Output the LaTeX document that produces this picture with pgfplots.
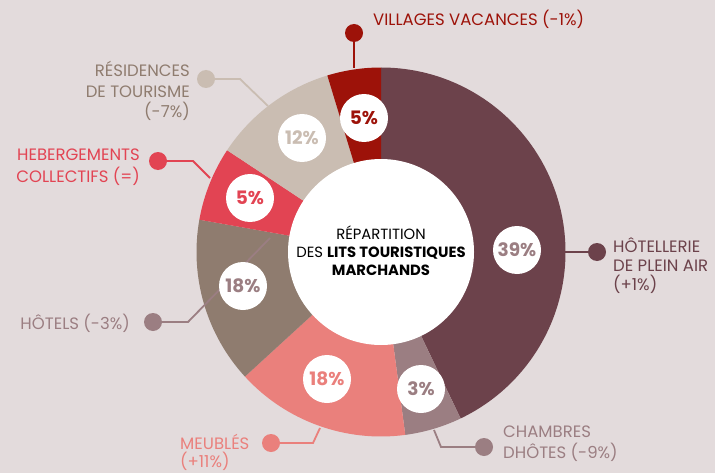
\documentclass[border=0pt]{standalone}
\usepackage{fontspec}
\setmainfont{Poppins}
\usepackage{pgfplots}
\usepackage{pgfplotstable}
\pgfplotsset{compat=1.18}

\definecolor{bg}{HTML}{E3DBDC}
\definecolor{cHot}{HTML}{6C424B}
\definecolor{cCha}{HTML}{9B7E82}
\definecolor{cMeu}{HTML}{EA807C}
\definecolor{cHtl}{HTML}{8F7C6F}
\definecolor{cHeb}{HTML}{E24453}
\definecolor{cRes}{HTML}{CABDB2}
\definecolor{cVil}{HTML}{9D1209}

% share of the ring (as drawn), clockwise from 12 o'clock
\pgfplotstableread{
share col
42.9 cHot
5.0  cCha
15.3 cMeu
14.6 cHtl
6.5  cHeb
11.0 cRes
4.7  cVil
}\lits

\newcommand\lab{\fontsize{16.5bp}{19bp}\selectfont}
\newcommand\pct{\fontsize{18.5bp}{18bp}\selectfont\bfseries}
\newcommand\ctr{\fontsize{14.8bp}{17bp}\selectfont}

\begin{document}
\begin{tikzpicture}
\begin{axis}[
  width=715bp, height=473bp, scale only axis,
  xmin=0, xmax=715, ymin=0, ymax=473, y dir=reverse,
  enlargelimits=false, hide axis,
]
\fill[bg] (rel axis cs:0,0) rectangle (rel axis cs:1,1);

% ring segments
\def\cum{0}
\pgfplotsforeachungrouped \i in {0,...,6}{%
  \pgfplotstablegetelem{\i}{share}\of\lits
  \let\segval\pgfplotsretval
  \pgfplotstablegetelem{\i}{col}\of\lits
  \let\segcol\pgfplotsretval
  \pgfmathsetmacro\angA{90-3.6*\cum}
  \pgfmathsetmacro\cum{\cum+\segval}
  \pgfmathsetmacro\angB{90-3.6*\cum}
  \edef\temp{\noexpand\fill[\segcol] (axis cs:381,252) -- ++(\angA:184.5bp)
    arc[start angle=\angA, end angle=\angB, radius=184.5bp] -- cycle;}
  \temp
}

% leader lines and dots
\draw[cVil, line width=1.8bp] (axis cs:354,33) -- (axis cs:354,68);
\fill[cVil] (axis cs:354,33) circle[radius=9bp];
\draw[cRes, line width=1.8bp] (axis cs:206,79) -- (axis cs:240,79) -- (axis cs:268,106);
\fill[cRes] (axis cs:206,79) circle[radius=9bp];
\draw[cHeb, line width=1.8bp] (axis cs:158,161) -- (axis cs:193,161) -- (axis cs:210,178);
\fill[cHeb] (axis cs:158,161) circle[radius=9bp];
\draw[cCha, line width=1.8bp] (axis cs:153,322) -- (axis cs:188,322) -- (axis cs:270,238);
\fill[cCha] (axis cs:153,322) circle[radius=9bp];
\draw[cMeu, line width=1.8bp] (axis cs:271,443) -- (axis cs:313,443) -- (axis cs:320,428);
\fill[cMeu] (axis cs:271,443) circle[radius=9bp];
\draw[cCha, line width=1.8bp] (axis cs:484,447) -- (axis cs:441,447) -- (axis cs:434,430);
\fill[cCha] (axis cs:484,447) circle[radius=9bp];
\draw[cHot, line width=1.8bp] (axis cs:597,252) -- (axis cs:565,252);
\fill[cHot] (axis cs:597,252) circle[radius=9bp];

% centre
\fill[white] (axis cs:381,252) circle[radius=93bp];
\node[font=\ctr, anchor=base, inner sep=0] at (axis cs:381,239) {RÉPARTITION};
\node[font=\ctr, anchor=base, inner sep=0] at (axis cs:381,257) {DES \textbf{LITS TOURISTIQUES}};
\node[font=\ctr\bfseries, anchor=base, inner sep=0] at (axis cs:381,275) {MARCHANDS};

% value badges
\foreach \x/\y/\t/\cc in {364/118/5/cVil, 302/138/12/cRes, 250/198/5/cHeb,
  243/286/18/cCha, 327/379/18/cMeu, 421/389/3/cCha, 517/250/39/cCha}{
  \edef\temp{\noexpand\fill[white] (axis cs:\x,\y) circle[radius=24bp];
    \noexpand\node[font=\noexpand\pct, text=\cc, inner sep=0] at (axis cs:\x,\y) {\t\noexpand\%};}
  \temp
}

% category labels
\node[font=\lab, text=cVil, anchor=base west, inner sep=0] at (axis cs:373,26) {VILLAGES VACANCES (-1\%)};
\node[font=\lab, text=cHtl, anchor=base east, inner sep=0] at (axis cs:190,77) {RÉSIDENCES};
\node[font=\lab, text=cHtl, anchor=base east, inner sep=0] at (axis cs:190,97) {DE TOURISME};
\node[font=\lab, text=cHtl, anchor=base east, inner sep=0] at (axis cs:190,117) {(-7\%)};
\node[font=\lab, text=cHeb, anchor=base east, inner sep=0] at (axis cs:140,160) {HEBERGEMENTS};
\node[font=\lab, text=cHeb, anchor=base east, inner sep=0] at (axis cs:140,182) {COLLECTIFS (=)};
\node[font=\lab, text=cCha, anchor=base east, inner sep=0] at (axis cs:130,329) {HÔTELS (-3\%)};
\node[font=\lab, text=cMeu, anchor=base west, inner sep=0] at (axis cs:180,449) {MEUBLÉS};
\node[font=\lab, text=cMeu, anchor=base west, inner sep=0] at (axis cs:180,467) {(+11\%)};
\node[font=\lab, text=cCha, anchor=base west, inner sep=0] at (axis cs:503,437) {CHAMBRES};
\node[font=\lab, text=cCha, anchor=base west, inner sep=0] at (axis cs:503,458) {DHÔTES (-9\%)};
\node[font=\lab, text=cHot, anchor=base west, inner sep=0] at (axis cs:613,252) {HÔTELLERIE};
\node[font=\lab, text=cHot, anchor=base west, inner sep=0] at (axis cs:613,271) {DE PLEIN AIR};
\node[font=\lab, text=cHot, anchor=base west, inner sep=0] at (axis cs:613,290) {(+1\%)};
\end{axis}
\end{tikzpicture}
\end{document}
